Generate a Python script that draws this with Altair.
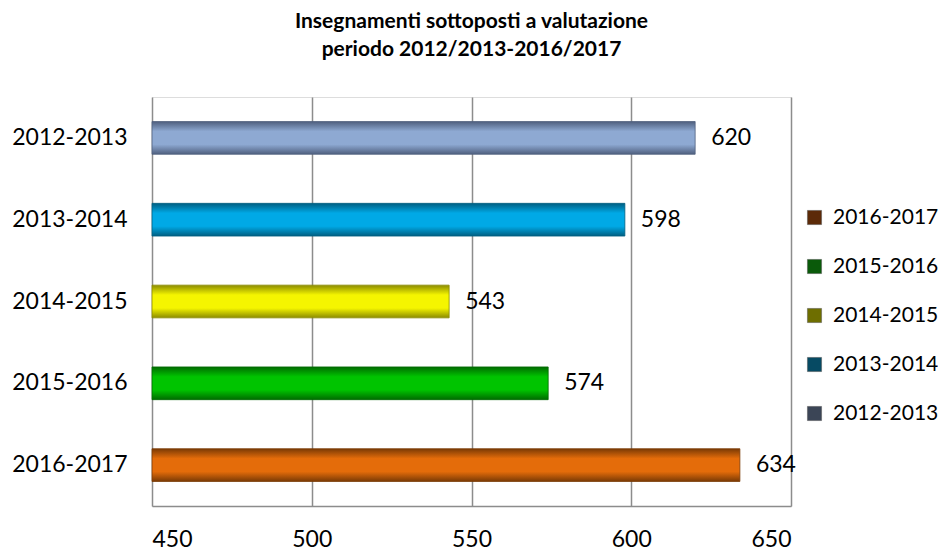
import altair as alt
import pandas as pd

categories = ["2012-2013", "2013-2014", "2014-2015", "2015-2016", "2016-2017"]
values = [620, 598, 543, 574, 634]
bar_mid = ["#8ea9d2", "#00a9e6", "#f5f500", "#00c400", "#e46c0a"]
bar_edge = ["#4f5f7e", "#005f82", "#8c8c00", "#006b00", "#7a3a05"]
legend_colors = ["#3b4556", "#064a63", "#6e6e00", "#0a5a0a", "#5c2a08"]
legend_order = ["2016-2017", "2015-2016", "2014-2015", "2013-2014", "2012-2013"]

df = pd.DataFrame({"anno": categories, "valore": values})

FONT = "Lato"
FS = 23

x_enc = alt.X("valore:Q", scale=alt.Scale(domain=[450, 650], clamp=True, nice=False),
              axis=alt.Axis(values=[450, 500, 550, 600, 650], grid=True, ticks=False,
                            domain=True, domainColor="#8c8c8c", domainWidth=1.5,
                            gridColor="#8c8c8c", gridWidth=1.5, labelFontSize=FS,
                            labelFont=FONT, labelColor="#000", labelPadding=22,
                            title=None))
y_enc = alt.Y("anno:N", sort=categories,
              scale=alt.Scale(paddingInner=0.6, paddingOuter=0.3),
              axis=alt.Axis(ticks=False, domain=False, labelFontSize=FS, labelFont=FONT,
                            labelColor="#000", labelPadding=25, title=None))

layers = []
for cat, mid, edge in zip(categories, bar_mid, bar_edge):
    grad = alt.Gradient(gradient="linear", x1=0, y1=0, x2=0, y2=1,
                        stops=[alt.GradientStop(color=edge, offset=0),
                               alt.GradientStop(color=mid, offset=0.3),
                               alt.GradientStop(color=mid, offset=0.7),
                               alt.GradientStop(color=edge, offset=1)])
    layers.append(
        alt.Chart(df).transform_filter(alt.datum.anno == cat)
        .mark_bar(color=grad, stroke=edge, strokeWidth=0.8)
        .encode(x=x_enc, x2=alt.datum(450), y=y_enc)
    )

labels = alt.Chart(df).mark_text(align="left", baseline="middle", dx=16,
                                 fontSize=FS, font=FONT, color="#000").encode(
    x=alt.X("valore:Q"), y=alt.Y("anno:N", sort=categories), text="valore:Q")

legend_layer = alt.Chart(df).mark_point(shape="square", filled=True, opacity=0).encode(
    x=alt.X("valore:Q"), y=alt.Y("anno:N", sort=categories),
    color=alt.Color("anno:N", sort=legend_order,
                    scale=alt.Scale(domain=legend_order,
                                    range=[legend_colors[categories.index(c)] for c in legend_order]),
                    legend=alt.Legend(title=None, orient="none", legendX=652, legendY=110,
                                      symbolType="square", symbolSize=200, symbolOpacity=1,
                                      symbolStrokeColor="#555", symbolStrokeWidth=0.5,
                                      labelFontSize=21, labelFont=FONT, labelColor="#000",
                                      rowPadding=27, labelOffset=8, labelLimit=200))
)

chart = alt.layer(*layers, labels, legend_layer).properties(
    width=639, height=409,
    padding={"left": 144, "top": 89, "right": 147, "bottom": 48},
    autosize=alt.AutoSizeParams(type="none"),
    title=alt.Title(["Insegnamenti sottoposti a valutazione", "periodo 2012/2013-2016/2017"],
                    fontSize=21, font=FONT, fontWeight="bold", color="#000",
                    anchor="middle", offset=37, lineHeight=28),
).configure_view(strokeWidth=0).configure(background="white")

chart.save("out.html", embed_options={"renderer": "svg", "actions": False})
